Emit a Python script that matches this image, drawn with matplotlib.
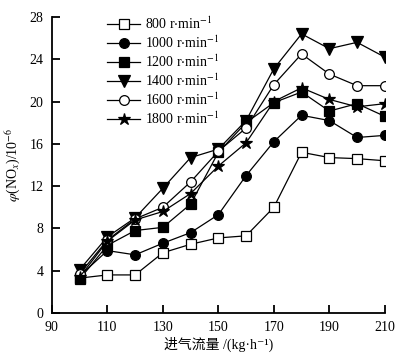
import matplotlib
matplotlib.use("Agg")
import matplotlib.pyplot as plt

plt.rcParams['font.family'] = ['Liberation Serif', 'Noto Sans CJK SC', 'DejaVu Serif']
plt.rcParams['mathtext.fontset'] = 'stix'

flow = [100, 110, 120, 130, 140, 150, 160, 170, 180, 190, 200, 210]
labels = ["800", "1000", "1200", "1400", "1600", "1800"]
nox_800 = [3.3, 3.6, 3.6, 5.7, 6.5, 7.1, 7.3, 10.0, 15.2, 14.7, 14.6, 14.4]
nox_1000 = [3.5, 5.9, 5.5, 6.6, 7.6, 9.3, 13.0, 16.2, 18.7, 18.2, 16.6, 16.8]
nox_1200 = [3.2, 6.4, 7.8, 8.1, 10.3, 15.2, 18.0, 19.9, 20.9, 19.1, 19.8, 18.6]
nox_1400 = [4.1, 7.2, 9.0, 11.8, 14.7, 15.5, 18.2, 23.1, 26.4, 25.0, 25.6, 24.2]
nox_1600 = [3.7, 6.9, 8.9, 10.0, 12.4, 15.3, 17.5, 21.6, 24.5, 22.6, 21.5, 21.5]
nox_1800 = [3.4, 6.8, 8.8, 9.6, 11.3, 13.9, 16.1, 20.0, 21.3, 20.2, 19.5, 19.8]
series = [nox_800, nox_1000, nox_1200, nox_1400, nox_1600, nox_1800]

styles = [
    dict(marker='s', mfc='white', ms=6.5),
    dict(marker='o', mfc='black', ms=7),
    dict(marker='s', mfc='black', ms=6.5),
    dict(marker='v', mfc='black', ms=8),
    dict(marker='o', mfc='white', ms=7),
    dict(marker='*', mfc='black', ms=9),
]

fig = plt.figure(figsize=(4.12, 3.61), dpi=100)
ax = fig.add_axes([0.126, 0.133, 0.808, 0.820])

for lab, ys, st in zip(labels, series, styles):
    ax.plot(flow, ys, color='black', lw=0.9, mec='black', mew=0.9,
            label=lab + r" r$\cdot$min$^{-1}$", **st)

ax.set_xlim(90, 210)
ax.set_ylim(0, 28)
ax.set_xticks([90, 110, 130, 150, 170, 190, 210])
ax.set_yticks([0, 4, 8, 12, 16, 20, 24, 28])
ax.tick_params(direction='in', length=6, width=1.3, labelsize=10, pad=6)
for s in ['top', 'right']:
    ax.spines[s].set_visible(False)
for s in ['left', 'bottom']:
    ax.spines[s].set_linewidth(1.3)

ax.set_xlabel("进气流量 /(kg·h⁻¹)", fontsize=10, labelpad=2)
ax.set_ylabel(r"$\varphi$(NO$_x$)/10$^{-6}$", fontsize=10, labelpad=5)

leg = ax.legend(loc='upper left', bbox_to_anchor=(0.165, 1.005), frameon=False,
                fontsize=10, handlelength=2.4, labelspacing=0.18,
                handletextpad=0.35, borderaxespad=0, borderpad=0)

fig.savefig("out.png", dpi=100)
